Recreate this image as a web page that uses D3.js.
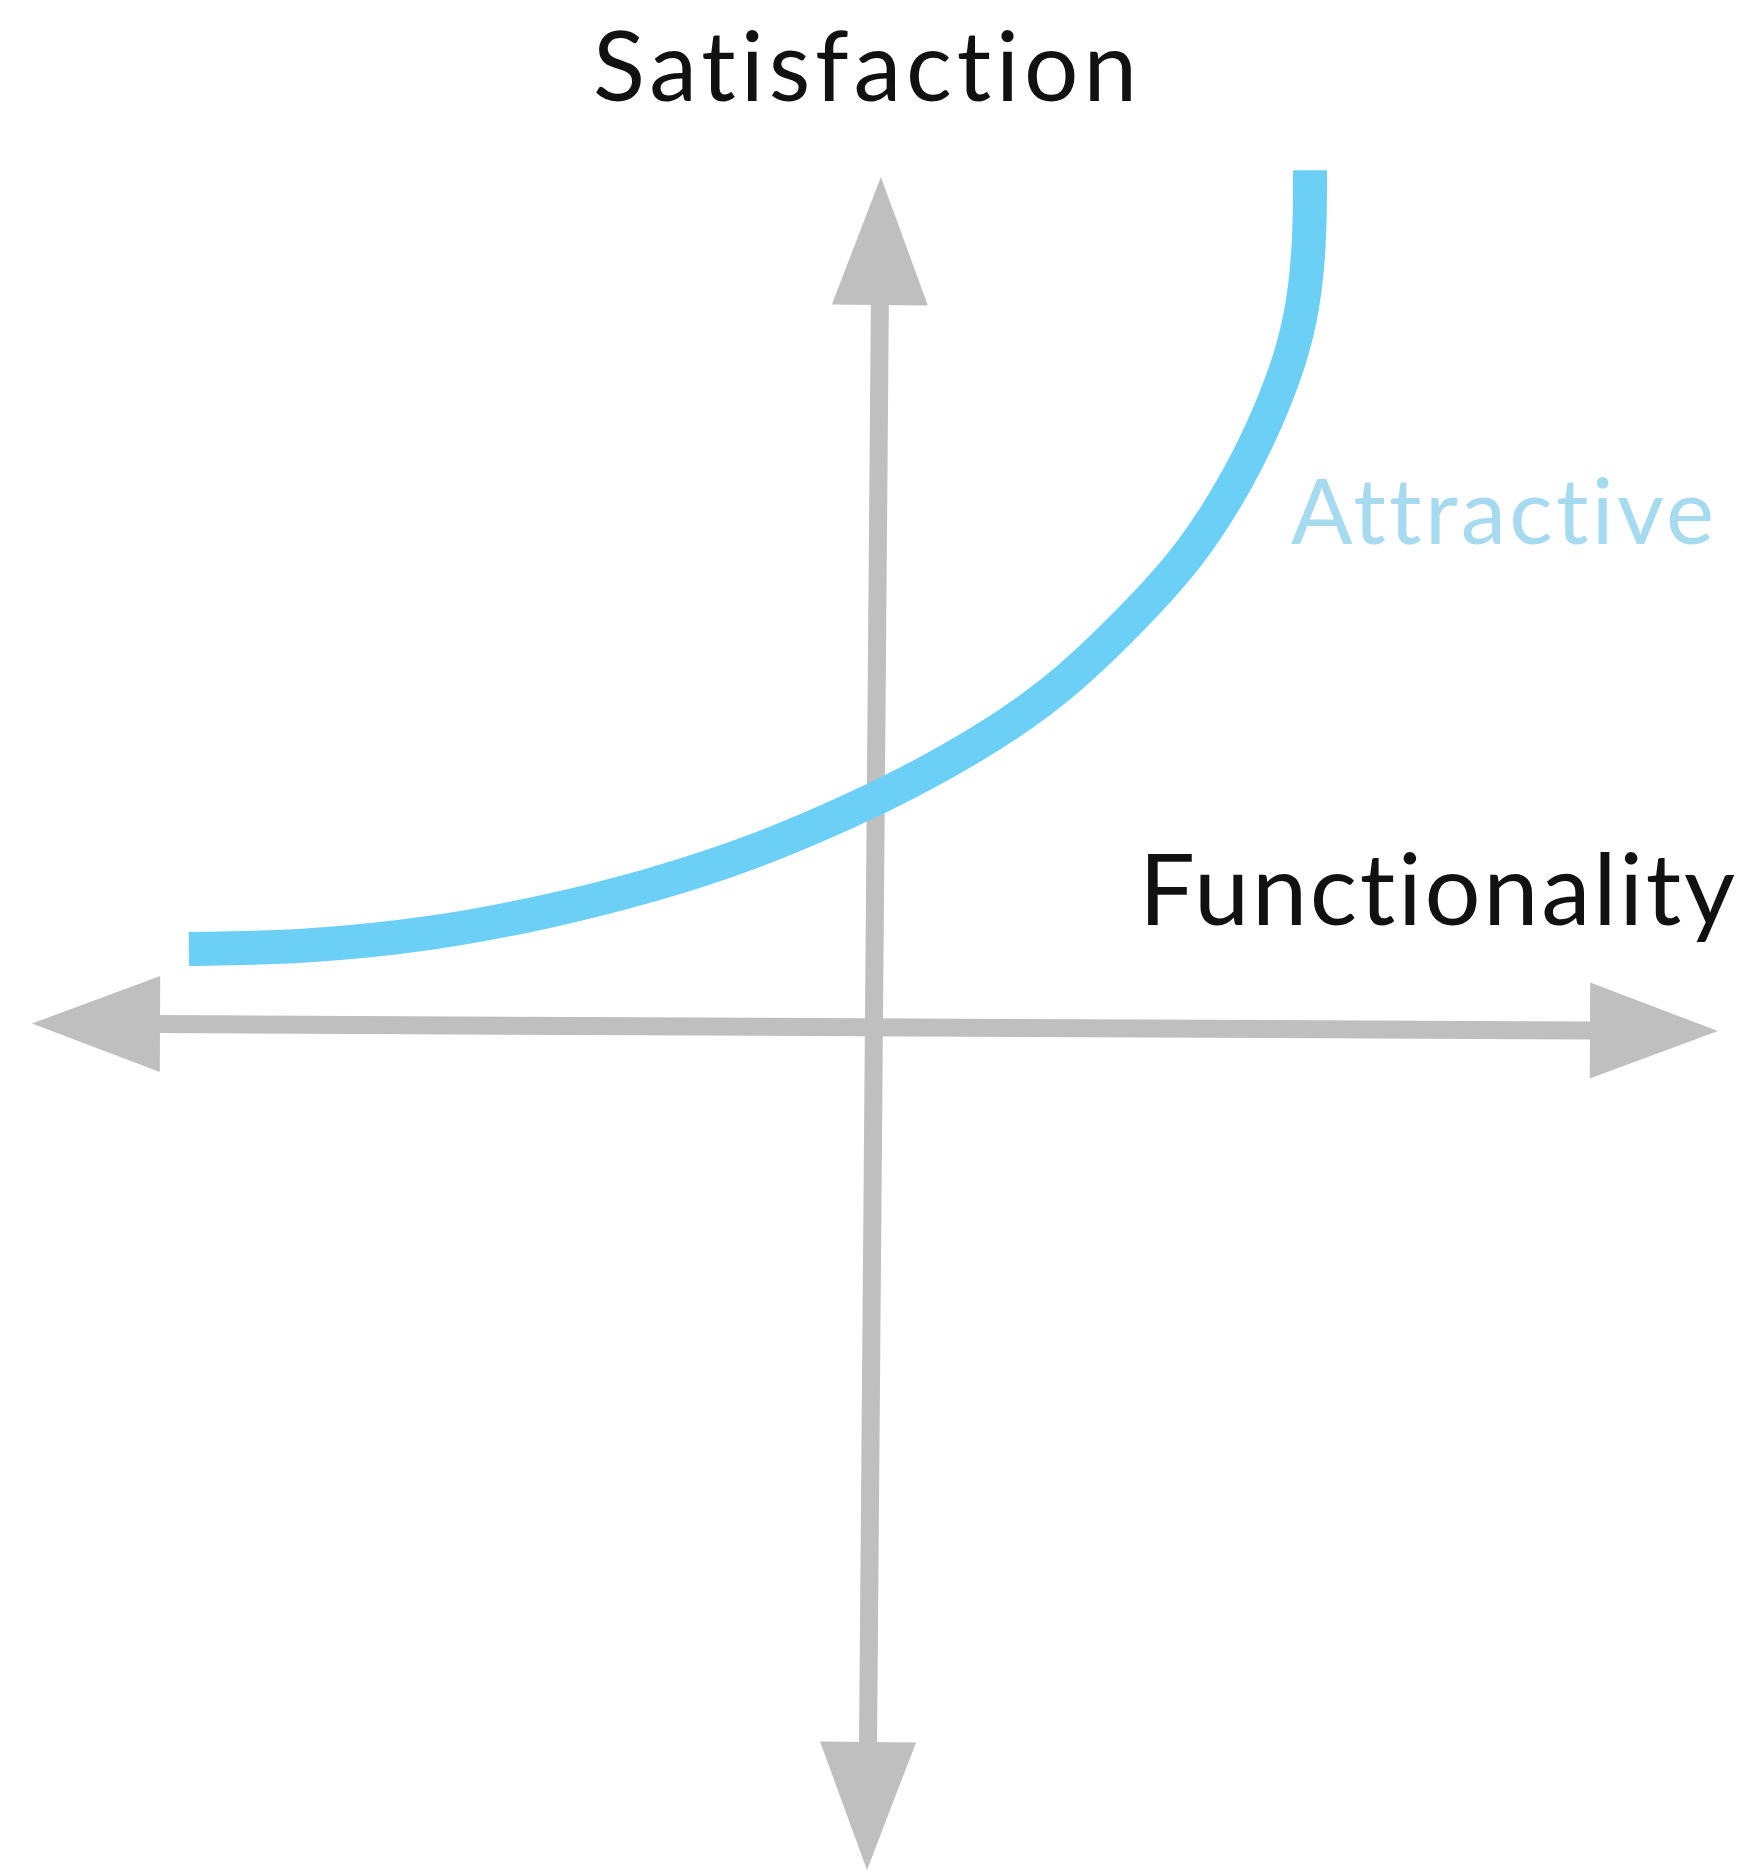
<!DOCTYPE html>
<html>
<head>
<meta charset="utf-8">
<script src="https://d3js.org/d3.v7.min.js"></script>
<style>
    body { margin: 0; background: #fff; }
    text { font-variant-ligatures: none; font-feature-settings: "liga" 0, "clig" 0; }
</style>
</head>
<body>
<div id="chart"></div>
<script>
// Kano "Attractive" curve, functionality (x) vs satisfaction (y), both -1..1
var functionality = [-0.814, -0.677, -0.527, -0.386, -0.267, -0.148, -0.030, 0.065, 0.160, 0.231, 0.308, 0.374, 0.431, 0.469, 0.498, 0.511, 0.516, 0.516];
var satisfaction  = [0.088, 0.090, 0.105, 0.132, 0.162, 0.200, 0.250, 0.297, 0.353, 0.406, 0.481, 0.552, 0.642, 0.721, 0.799, 0.867, 0.937, 1.008];
var axisDomain = [-1, 1];
// axis end points [from, to] (the picture is very slightly rotated)
var hAxis = [[-1, 0], [1, -0.009]];
var vAxis = [[-0.0095, -1], [0.007, 1]];
var seriesName = "Attractive";
var xTitle = "Functionality";
var yTitle = "Satisfaction";

window.onload = function () {

    var width = 1751, height = 1871;

    var svg = d3.select("#chart").append("svg")
        .attr("width", width)
        .attr("height", height);

    svg.append("rect")
        .attr("width", "100%")
        .attr("height", "100%")
        .attr("fill", "white");

    var x = d3.scaleLinear().domain(axisDomain).range([32, 1718]);
    var y = d3.scaleLinear().domain(axisDomain).range([1870, 177]);

    var axisColor = "#bfbfbf";
    var headLen = 128, headHalf = 48;

    //double headed arrow between two data points
    function drawAxis(g, ends) {
        var x1 = x(ends[0][0]), y1 = y(ends[0][1]);
        var x2 = x(ends[1][0]), y2 = y(ends[1][1]);
        var len = Math.hypot(x2 - x1, y2 - y1);
        var ux = (x2 - x1) / len, uy = (y2 - y1) / len;

        g.append("line")
            .attr("x1", x1 + ux * (headLen - 4)).attr("y1", y1 + uy * (headLen - 4))
            .attr("x2", x2 - ux * (headLen - 4)).attr("y2", y2 - uy * (headLen - 4))
            .attr("stroke", axisColor).attr("stroke-width", 18);

        var heads = [[x1, y1, -ux, -uy], [x2, y2, ux, uy]];
        g.selectAll("path.head").data(heads).enter().append("path")
            .attr("class", "head")
            .attr("fill", axisColor)
            .attr("d", function (d) {
                var bx = d[0] - d[2] * headLen, by = d[1] - d[3] * headLen;
                var px = -d[3] * headHalf, py = d[2] * headHalf;
                return "M" + d[0] + "," + d[1] +
                    "L" + (bx + px) + "," + (by + py) +
                    "L" + (bx - px) + "," + (by - py) + "Z";
            });
    }

    drawAxis(svg.append("g"), hAxis);
    drawAxis(svg.append("g"), vAxis);

    //curve (b-spline keeps it smooth through the read-off points)
    var pts = functionality.map(function (v, i) { return [v, satisfaction[i]]; });
    var line = d3.line()
        .x(function (d) { return x(d[0]); })
        .y(function (d) { return y(d[1]); })
        .curve(d3.curveBasis);

    svg.append("path")
        .datum(pts)
        .attr("d", line)
        .attr("fill", "none")
        .attr("stroke", "#6ccff6")
        .attr("stroke-width", 34)
        .attr("stroke-linecap", "butt");

    //labels
    var font = "Lato, 'Open Sans', sans-serif";
    svg.append("text")
        .attr("x", 593).attr("y", 101)
        .attr("textLength", 544).attr("lengthAdjust", "spacing")
        .attr("font-family", font).attr("font-size", 96)
        .attr("fill", "#111")
        .text(yTitle);

    svg.append("text")
        .attr("x", 1139).attr("y", 925)
        .attr("textLength", 596).attr("lengthAdjust", "spacing")
        .attr("font-family", font).attr("font-size", 99)
        .attr("fill", "#111")
        .text(xTitle);

    svg.append("text")
        .attr("x", 1291).attr("y", 544)
        .attr("textLength", 423).attr("lengthAdjust", "spacing")
        .attr("font-family", font).attr("font-size", 91)
        .attr("fill", "#a6dbef")
        .text(seriesName);
}
</script>
</body>
</html>
